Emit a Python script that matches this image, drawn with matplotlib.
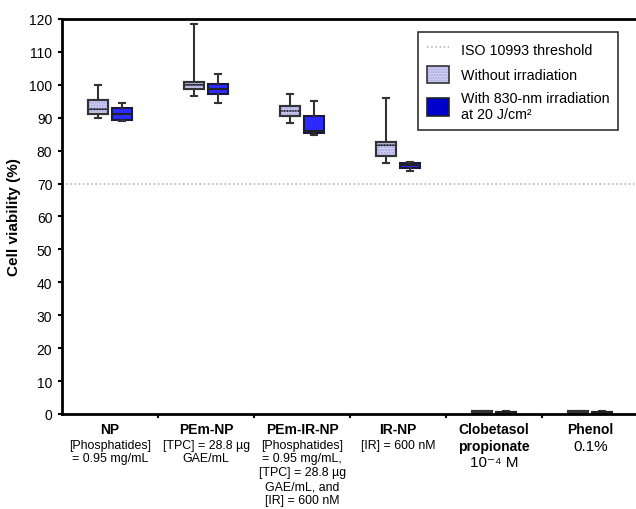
import matplotlib
matplotlib.use("Agg")
import matplotlib.pyplot as plt
from matplotlib.patches import PathPatch, Patch
from matplotlib.lines import Line2D

plt.rcParams['font.family'] = ['Liberation Sans', 'DejaVu Sans']

# group names and the details printed under them
groups = ['NP', 'PEm-NP', 'PEm-IR-NP', 'IR-NP', 'Clobetasol\npropionate', 'Phenol']
details = ['[Phosphatides]\n= 0.95 mg/mL',
           '[TPC] = 28.8 µg\nGAE/mL',
           '[Phosphatides]\n= 0.95 mg/mL,\n[TPC] = 28.8 µg\nGAE/mL, and\n[IR] = 600 nM',
           '[IR] = 600 nM',
           '10⁻⁴ M',
           '0.1%']

# box stats: whisker low, q1, median, q3, whisker high
no_irr = [[89.8, 91.0, 92.6, 95.3, 99.9],
          [96.5, 98.6, 100.0, 100.9, 118.5],
          [88.5, 90.5, 91.9, 93.7, 97.3],
          [76.2, 78.5, 81.8, 82.6, 96.0],
          [0.3, 0.4, 0.6, 0.8, 0.9],
          [0.3, 0.4, 0.6, 0.8, 1.0]]
with_irr = [[89.1, 89.3, 91.1, 93.0, 94.6],
            [94.5, 97.1, 98.7, 100.1, 103.3],
            [84.8, 85.3, 86.0, 90.6, 95.1],
            [73.9, 74.7, 75.6, 76.1, 76.6],
            [0.3, 0.4, 0.5, 0.7, 0.8],
            [0.3, 0.4, 0.6, 0.7, 0.8]]
threshold = 70

light = '#cfcff5'
hatch_col = '#a4a4dc'
blue = '#2b2bff'


def stats(rows):
    return [dict(whislo=r[0], q1=r[1], med=r[2], q3=r[3], whishi=r[4], fliers=[]) for r in rows]


fig = plt.figure(figsize=(6.36, 5.1), dpi=100)
ax = fig.add_axes([0.0975, 0.1863, 0.906, 0.7745])

centers = [i + 0.5 for i in range(len(groups))]
common = dict(widths=0.21, capwidths=0.065, patch_artist=True, showfliers=False,
              whiskerprops=dict(color='#333333', lw=1.5),
              capprops=dict(color='#333333', lw=1.5),
              medianprops=dict(color='#222222', lw=1.5))

b1 = ax.bxp(stats(no_irr), positions=[c - 0.125 for c in centers],
            boxprops=dict(facecolor=light, edgecolor='#333333', lw=1.5), **common)
b2 = ax.bxp(stats(with_irr), positions=[c + 0.125 for c in centers],
            boxprops=dict(facecolor=blue, edgecolor='#1a1a40', lw=1.5), **common)

for box in b1['boxes']:
    ax.add_patch(PathPatch(box.get_path(), facecolor='none', edgecolor=hatch_col,
                           hatch='......', lw=0, zorder=box.get_zorder() + 0.1))
    ax.add_patch(PathPatch(box.get_path(), facecolor='none', edgecolor='#333333',
                           lw=1.5, zorder=box.get_zorder() + 0.2))

ax.axhline(threshold, color='#b8b8b8', ls=(0, (1, 1.5)), lw=1.2, zorder=0)

ax.set_xlim(0, 6)
ax.set_ylim(0, 120)
ax.set_yticks(range(0, 121, 10))
ax.set_xticks(range(1, 6))
ax.set_xticklabels([])
ax.tick_params(axis='both', direction='out', length=3, width=1.5, labelsize=10, colors='black')
ax.tick_params(axis='y', pad=4)
for s in ['left', 'bottom', 'top']:
    ax.spines[s].set_linewidth(2)
ax.spines['right'].set_visible(False)

ax.set_ylabel('Cell viability (%)', fontsize=11, fontweight='bold', labelpad=6)

# category labels under the axis
for i, (g, d) in enumerate(zip(groups, details)):
    ax.text(centers[i], -2.3, g, ha='center', va='top', fontsize=10, fontweight='bold',
            linespacing=1.35)
    nlines = g.count('\n') + 1
    size = 11 if i >= 4 else 8.9
    ax.text(centers[i], -2.5 - 5.0 * nlines, d, ha='center', va='top', fontsize=size,
            linespacing=1.2)

hatched = (Patch(facecolor=light, edgecolor=hatch_col, hatch='......', lw=0),
           Patch(facecolor='none', edgecolor='#333333', lw=1.2))
handles = [Line2D([], [], color='#b8b8b8', ls=(0, (1, 1.5)), lw=1.2),
           hatched,
           Patch(facecolor='#0000cc', edgecolor='#222222', lw=1.2)]
labels = ['ISO 10993 threshold', 'Without irradiation', 'With 830-nm irradiation\nat 20 J/cm²']
leg = ax.legend(handles, labels, loc='upper right', bbox_to_anchor=(0.977, 0.985), fontsize=10.3,
                frameon=True, fancybox=False, edgecolor='black', handlelength=1.55, handleheight=1.5,
                labelspacing=0.55, borderpad=0.6, handletextpad=0.8)
leg.get_frame().set_linewidth(1.2)

fig.savefig('out.png', dpi=100)
